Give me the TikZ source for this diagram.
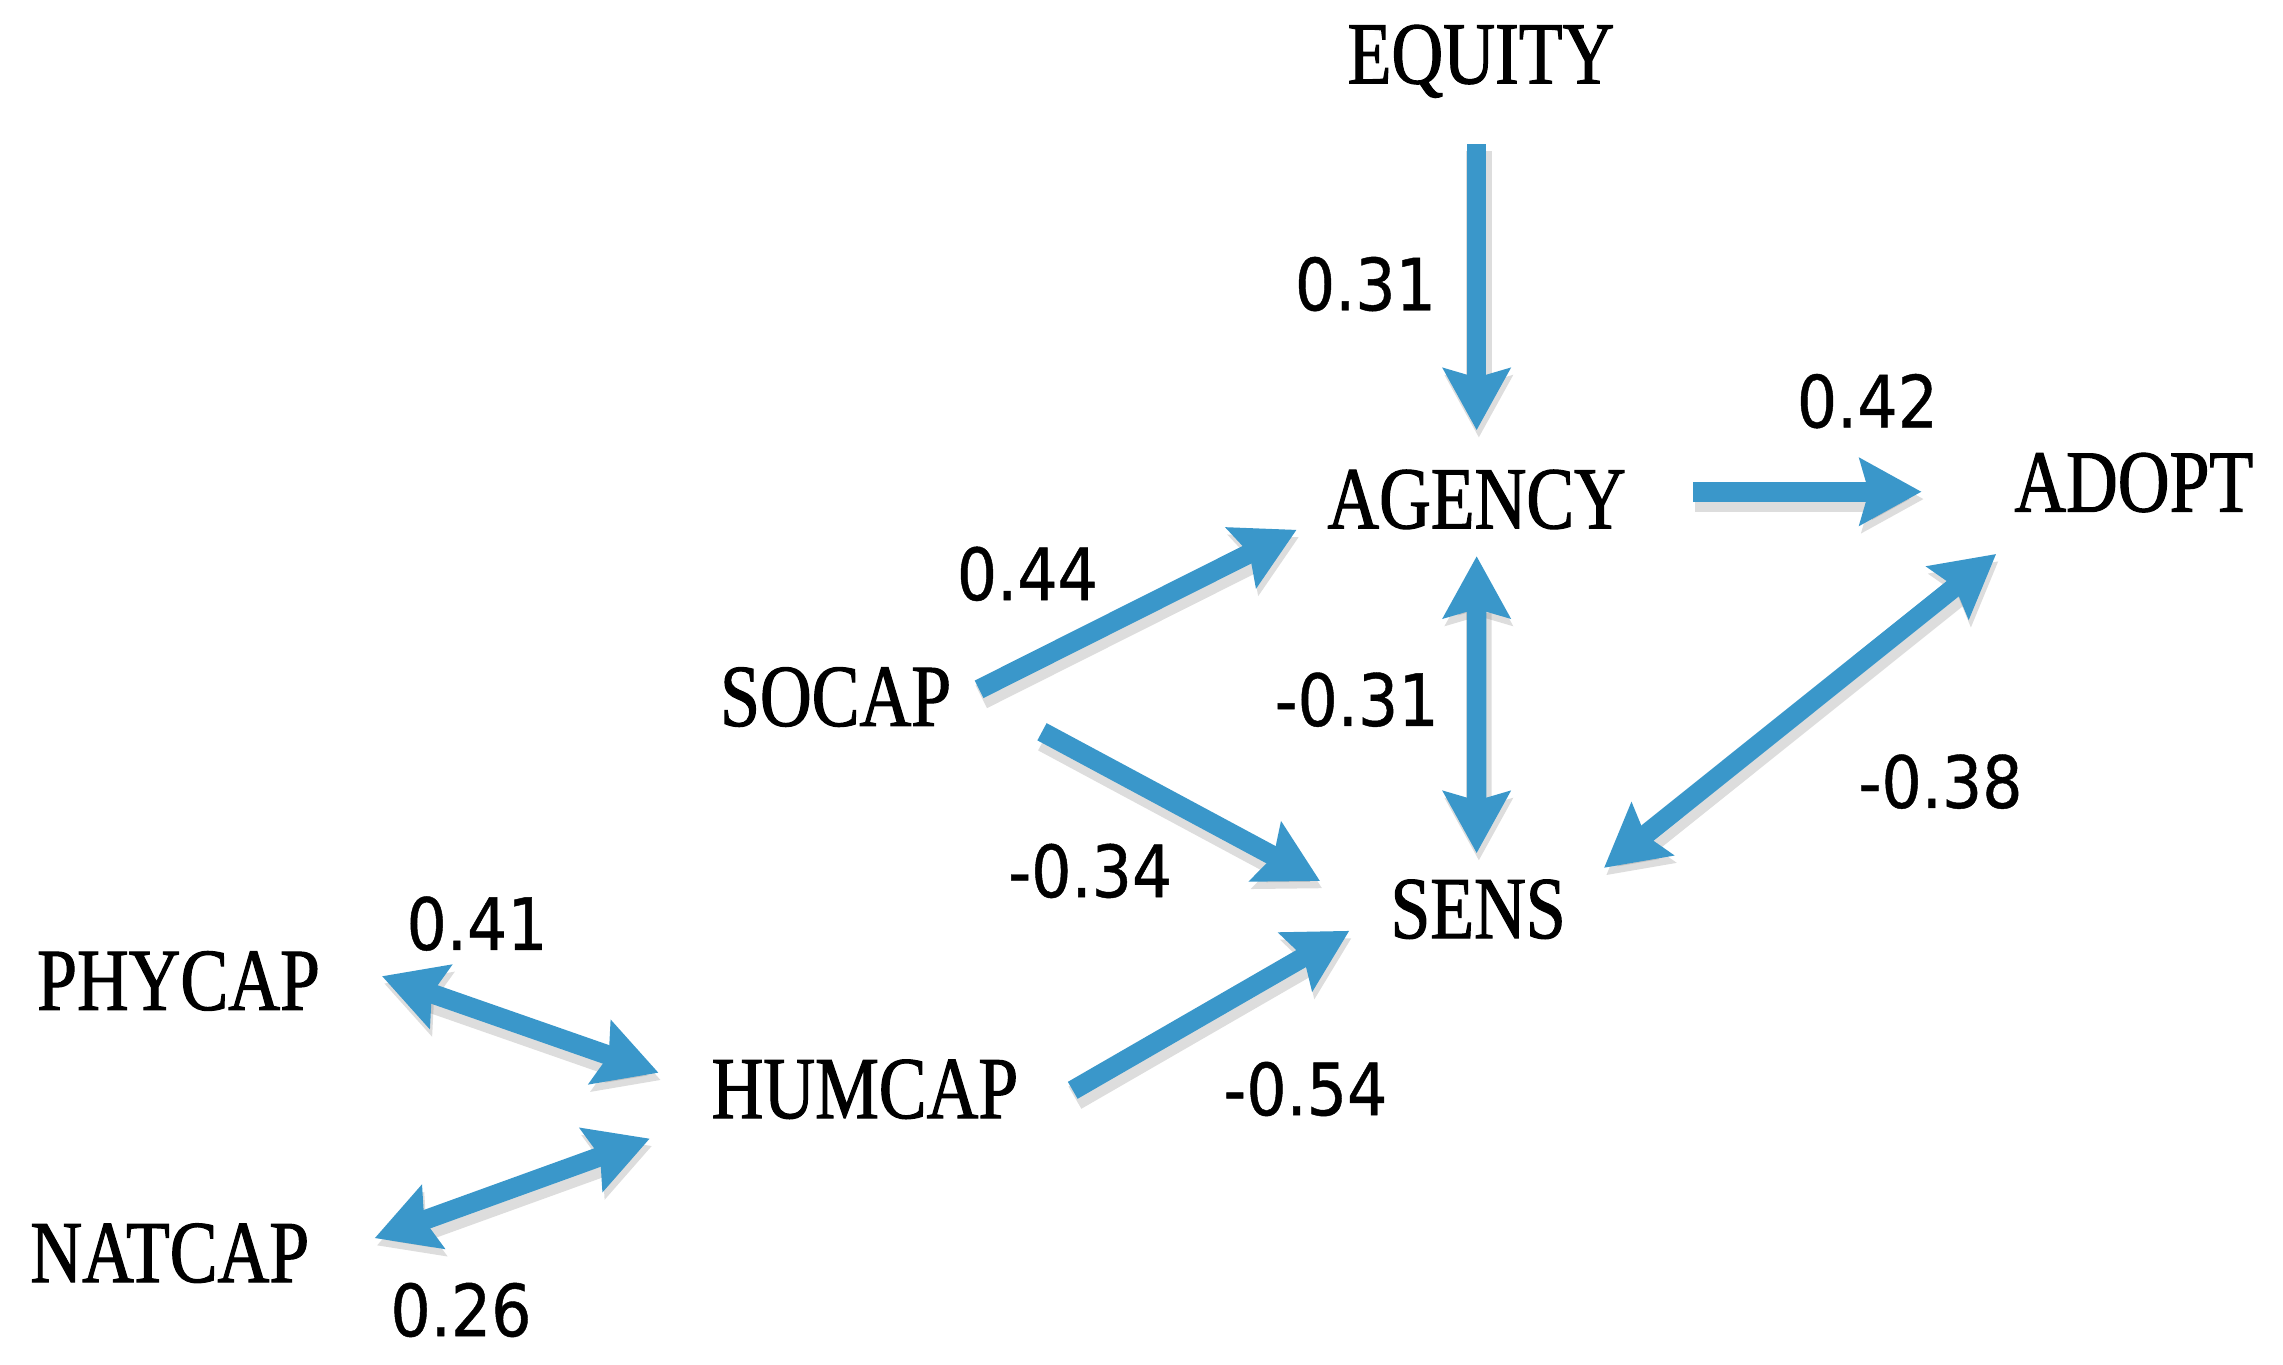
\documentclass[tikz,border=0pt]{standalone}
\usepackage{fontspec}
\usetikzlibrary{arrows.meta,calc}
\newfontfamily\labfont{Liberation Serif}[FakeStretch=0.81,FakeBold=1.2]
\newfontfamily\numfont{DejaVu Sans}[FakeStretch=0.88,FakeBold=0.6]
\definecolor{arrowblue}{HTML}{3A97CA}
\tikzset{
  var/.style={inner sep=0pt, anchor=base, font=\labfont\fontsize{17.2pt}{20pt}\selectfont},
  coef/.style={inner sep=0pt, anchor=base, font=\numfont\fontsize{14pt}{17pt}\selectfont},
  tip/.tip={Stealth[length=0.42cm,width=0.45cm,inset=0.06cm]},
  conn/.style={line width=3.8pt, draw=arrowblue,
    preaction={draw=black!60, opacity=0.22, line width=5pt,
      transform canvas={shift={(0.015,-0.05)}}}},
  one/.style={conn, -tip},
  two/.style={conn, tip-tip}
}
\begin{document}
\begin{tikzpicture}
\useasboundingbox (0,0) rectangle (15.6,-9.327);
% variables
\node[var] (equity) at (10.12,-0.57) {EQUITY};
\node[var] (agency) at (10.09,-3.61) {AGENCY};
\node[var] (adopt)  at (14.58,-3.495) {ADOPT};
\node[var] (socap)  at (5.71,-4.96) {SOCAP};
\node[var] (sens)   at (10.10,-6.41) {SENS};
\node[var] (phycap) at (1.22,-6.90) {PHYCAP};
\node[var] (humcap) at (5.91,-7.64) {HUMCAP};
\node[var] (natcap) at (1.16,-8.76) {NATCAP};
% coefficients
\node[coef] (c1) at (9.33,-2.12) {0.31};
\node[coef] (c2) at (12.76,-2.92) {0.42};
\node[coef] (c3) at (7.02,-4.10) {0.44};
\node[coef] (c4) at (9.27,-4.96) {-0.31};
\node[coef] (c5) at (13.26,-5.52) {-0.38};
\node[coef] (c6) at (7.45,-6.13) {-0.34};
\node[coef] (c7) at (3.26,-6.49) {0.41};
\node[coef] (c8) at (8.92,-7.62) {-0.54};
\node[coef] (c9) at (3.15,-9.13) {0.26};
% connectors
\draw[one] ($(equity.base)+(-0.03,-0.415)$) -- ($(agency.base)+(0,0.67)$);
\draw[one] ($(agency.base)+(1.48,0.25)$) -- ($(adopt.base)+(-1.45,0.135)$);
\draw[one] ($(socap.base)+(0.98,0.25)$) -- ($(agency.base)+(-1.23,-0.01)$);
\draw[one] ($(socap.base)+(1.41,-0.04)$) -- ($(sens.base)+(-1.08,0.39)$);
\draw[two] ($(agency.base)+(0,-0.19)$) -- ($(sens.base)+(-0.01,0.58)$);
\draw[two] ($(adopt.base)+(-0.94,-0.29)$) -- ($(sens.base)+(0.86,0.48)$);
\draw[one] ($(humcap.base)+(1.42,0.19)$) -- ($(sens.base)+(-0.88,0.05)$);
\draw[two] ($(phycap.base)+(1.39,0.23)$) -- ($(humcap.base)+(-1.41,0.31)$);
\draw[two] ($(natcap.base)+(1.40,0.30)$) -- ($(humcap.base)+(-1.47,-0.14)$);
\end{tikzpicture}
\end{document}
